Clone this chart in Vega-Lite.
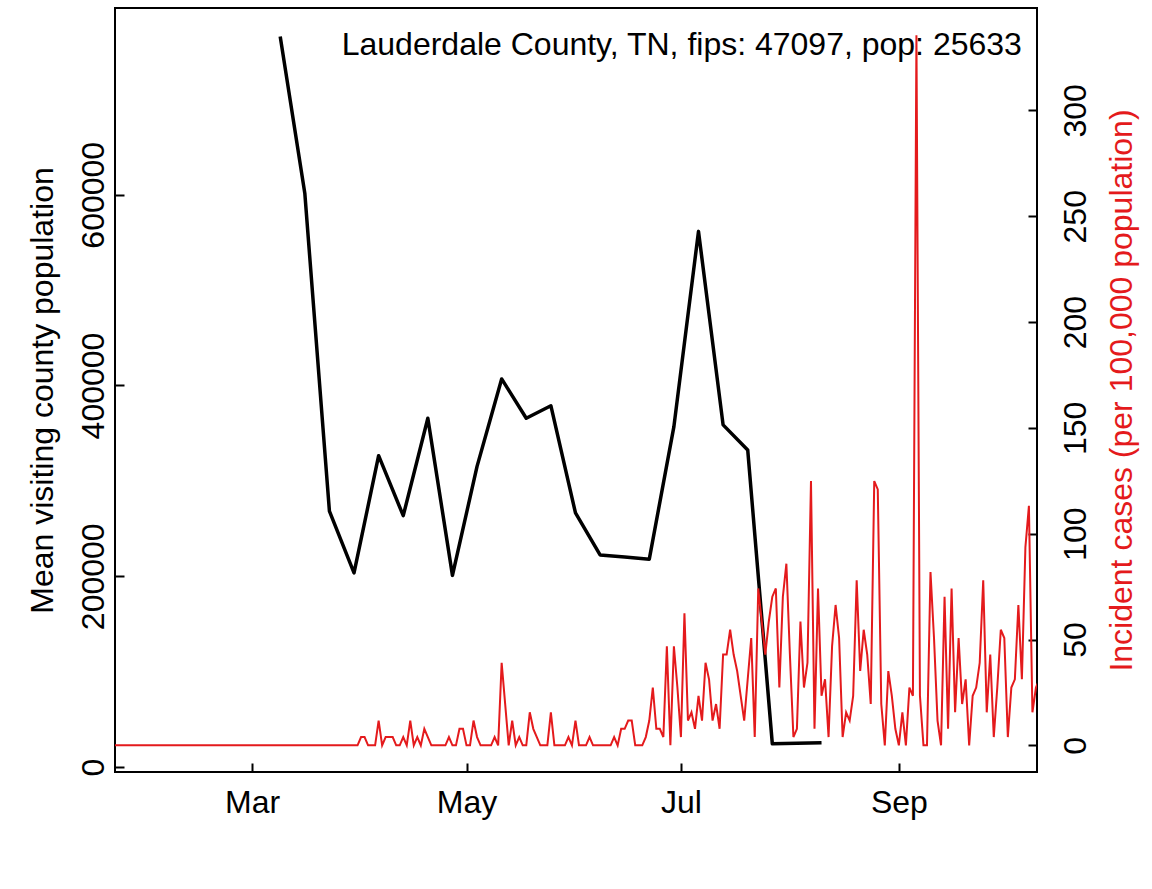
{
  "$schema": "https://vega.github.io/schema/vega-lite/v6.json",
  "width": 922,
  "height": 764,
  "autosize": {"type": "none"},
  "padding": {"left": 115, "top": 8, "right": 115, "bottom": 117},
  "background": "white",
  "config": {
    "font": "Liberation Sans",
    "view": {"stroke": "black", "strokeWidth": 2},
    "axis": {"grid": false, "domain": false, "tickColor": "black", "tickWidth": 2, "tickSize": -9, "labelFontSize": 32, "labelColor": "black", "labelFont": "Liberation Sans", "titleFontSize": 32, "titleFontWeight": "normal", "titleColor": "black", "titleFont": "Liberation Sans", "labelOverlap": false}
  },
  "datasets": {
    "visits": [
      {"date": "2020-03-09", "visitors": 766000},
      {"date": "2020-03-16", "visitors": 601600},
      {"date": "2020-03-23", "visitors": 268300},
      {"date": "2020-03-30", "visitors": 203500},
      {"date": "2020-04-06", "visitors": 326400},
      {"date": "2020-04-13", "visitors": 263500},
      {"date": "2020-04-20", "visitors": 365700},
      {"date": "2020-04-27", "visitors": 200900},
      {"date": "2020-05-04", "visitors": 315200},
      {"date": "2020-05-11", "visitors": 406900},
      {"date": "2020-05-18", "visitors": 365700},
      {"date": "2020-05-25", "visitors": 378800},
      {"date": "2020-06-01", "visitors": 266400},
      {"date": "2020-06-08", "visitors": 222300},
      {"date": "2020-06-15", "visitors": 220200},
      {"date": "2020-06-22", "visitors": 217900},
      {"date": "2020-06-29", "visitors": 356900},
      {"date": "2020-07-06", "visitors": 561600},
      {"date": "2020-07-13", "visitors": 358700},
      {"date": "2020-07-20", "visitors": 332400},
      {"date": "2020-07-27", "visitors": 24400},
      {"date": "2020-08-03", "visitors": 25000},
      {"date": "2020-08-10", "visitors": 25500}
    ],
    "cases": [
      {"date": "2020-01-22", "rate": 0}, {"date": "2020-01-23", "rate": 0}, {"date": "2020-01-24", "rate": 0}, {"date": "2020-01-25", "rate": 0}, {"date": "2020-01-26", "rate": 0},
      {"date": "2020-01-27", "rate": 0}, {"date": "2020-01-28", "rate": 0}, {"date": "2020-01-29", "rate": 0}, {"date": "2020-01-30", "rate": 0}, {"date": "2020-01-31", "rate": 0},
      {"date": "2020-02-01", "rate": 0}, {"date": "2020-02-02", "rate": 0}, {"date": "2020-02-03", "rate": 0}, {"date": "2020-02-04", "rate": 0}, {"date": "2020-02-05", "rate": 0},
      {"date": "2020-02-06", "rate": 0}, {"date": "2020-02-07", "rate": 0}, {"date": "2020-02-08", "rate": 0}, {"date": "2020-02-09", "rate": 0}, {"date": "2020-02-10", "rate": 0},
      {"date": "2020-02-11", "rate": 0}, {"date": "2020-02-12", "rate": 0}, {"date": "2020-02-13", "rate": 0}, {"date": "2020-02-14", "rate": 0}, {"date": "2020-02-15", "rate": 0},
      {"date": "2020-02-16", "rate": 0}, {"date": "2020-02-17", "rate": 0}, {"date": "2020-02-18", "rate": 0}, {"date": "2020-02-19", "rate": 0}, {"date": "2020-02-20", "rate": 0},
      {"date": "2020-02-21", "rate": 0}, {"date": "2020-02-22", "rate": 0}, {"date": "2020-02-23", "rate": 0}, {"date": "2020-02-24", "rate": 0}, {"date": "2020-02-25", "rate": 0},
      {"date": "2020-02-26", "rate": 0}, {"date": "2020-02-27", "rate": 0}, {"date": "2020-02-28", "rate": 0}, {"date": "2020-02-29", "rate": 0},
      {"date": "2020-03-01", "rate": 0}, {"date": "2020-03-02", "rate": 0}, {"date": "2020-03-03", "rate": 0}, {"date": "2020-03-04", "rate": 0}, {"date": "2020-03-05", "rate": 0},
      {"date": "2020-03-06", "rate": 0}, {"date": "2020-03-07", "rate": 0}, {"date": "2020-03-08", "rate": 0}, {"date": "2020-03-09", "rate": 0}, {"date": "2020-03-10", "rate": 0},
      {"date": "2020-03-11", "rate": 0}, {"date": "2020-03-12", "rate": 0}, {"date": "2020-03-13", "rate": 0}, {"date": "2020-03-14", "rate": 0}, {"date": "2020-03-15", "rate": 0},
      {"date": "2020-03-16", "rate": 0}, {"date": "2020-03-17", "rate": 0}, {"date": "2020-03-18", "rate": 0}, {"date": "2020-03-19", "rate": 0}, {"date": "2020-03-20", "rate": 0},
      {"date": "2020-03-21", "rate": 0}, {"date": "2020-03-22", "rate": 0}, {"date": "2020-03-23", "rate": 0}, {"date": "2020-03-24", "rate": 0}, {"date": "2020-03-25", "rate": 0},
      {"date": "2020-03-26", "rate": 0}, {"date": "2020-03-27", "rate": 0}, {"date": "2020-03-28", "rate": 0}, {"date": "2020-03-29", "rate": 0}, {"date": "2020-03-30", "rate": 0},
      {"date": "2020-03-31", "rate": 0},
      {"date": "2020-04-01", "rate": 3.9}, {"date": "2020-04-02", "rate": 3.9}, {"date": "2020-04-03", "rate": 0}, {"date": "2020-04-04", "rate": 0}, {"date": "2020-04-05", "rate": 0},
      {"date": "2020-04-06", "rate": 11.7}, {"date": "2020-04-07", "rate": 0}, {"date": "2020-04-08", "rate": 3.9}, {"date": "2020-04-09", "rate": 3.9}, {"date": "2020-04-10", "rate": 3.9},
      {"date": "2020-04-11", "rate": 0}, {"date": "2020-04-12", "rate": 0}, {"date": "2020-04-13", "rate": 3.9}, {"date": "2020-04-14", "rate": 0}, {"date": "2020-04-15", "rate": 11.7},
      {"date": "2020-04-16", "rate": 0}, {"date": "2020-04-17", "rate": 3.9}, {"date": "2020-04-18", "rate": 0}, {"date": "2020-04-19", "rate": 7.8}, {"date": "2020-04-20", "rate": 3.9},
      {"date": "2020-04-21", "rate": 0}, {"date": "2020-04-22", "rate": 0}, {"date": "2020-04-23", "rate": 0}, {"date": "2020-04-24", "rate": 0}, {"date": "2020-04-25", "rate": 0},
      {"date": "2020-04-26", "rate": 3.9}, {"date": "2020-04-27", "rate": 0}, {"date": "2020-04-28", "rate": 0}, {"date": "2020-04-29", "rate": 7.8}, {"date": "2020-04-30", "rate": 7.8},
      {"date": "2020-05-01", "rate": 0}, {"date": "2020-05-02", "rate": 0}, {"date": "2020-05-03", "rate": 11.7}, {"date": "2020-05-04", "rate": 3.9}, {"date": "2020-05-05", "rate": 0},
      {"date": "2020-05-06", "rate": 0}, {"date": "2020-05-07", "rate": 0}, {"date": "2020-05-08", "rate": 0}, {"date": "2020-05-09", "rate": 3.9}, {"date": "2020-05-10", "rate": 0},
      {"date": "2020-05-11", "rate": 39.01}, {"date": "2020-05-12", "rate": 19.51}, {"date": "2020-05-13", "rate": 0}, {"date": "2020-05-14", "rate": 11.7}, {"date": "2020-05-15", "rate": 0},
      {"date": "2020-05-16", "rate": 3.9}, {"date": "2020-05-17", "rate": 0}, {"date": "2020-05-18", "rate": 0}, {"date": "2020-05-19", "rate": 15.6}, {"date": "2020-05-20", "rate": 7.8},
      {"date": "2020-05-21", "rate": 3.9}, {"date": "2020-05-22", "rate": 0}, {"date": "2020-05-23", "rate": 0}, {"date": "2020-05-24", "rate": 0}, {"date": "2020-05-25", "rate": 15.6},
      {"date": "2020-05-26", "rate": 0}, {"date": "2020-05-27", "rate": 0}, {"date": "2020-05-28", "rate": 0}, {"date": "2020-05-29", "rate": 0}, {"date": "2020-05-30", "rate": 3.9},
      {"date": "2020-05-31", "rate": 0},
      {"date": "2020-06-01", "rate": 11.7}, {"date": "2020-06-02", "rate": 0}, {"date": "2020-06-03", "rate": 0}, {"date": "2020-06-04", "rate": 0}, {"date": "2020-06-05", "rate": 3.9},
      {"date": "2020-06-06", "rate": 0}, {"date": "2020-06-07", "rate": 0}, {"date": "2020-06-08", "rate": 0}, {"date": "2020-06-09", "rate": 0}, {"date": "2020-06-10", "rate": 0},
      {"date": "2020-06-11", "rate": 0}, {"date": "2020-06-12", "rate": 3.9}, {"date": "2020-06-13", "rate": 0}, {"date": "2020-06-14", "rate": 7.8}, {"date": "2020-06-15", "rate": 7.8},
      {"date": "2020-06-16", "rate": 11.7}, {"date": "2020-06-17", "rate": 11.7}, {"date": "2020-06-18", "rate": 0}, {"date": "2020-06-19", "rate": 0}, {"date": "2020-06-20", "rate": 0},
      {"date": "2020-06-21", "rate": 3.9}, {"date": "2020-06-22", "rate": 11.7}, {"date": "2020-06-23", "rate": 27.31}, {"date": "2020-06-24", "rate": 7.8}, {"date": "2020-06-25", "rate": 7.8},
      {"date": "2020-06-26", "rate": 3.9}, {"date": "2020-06-27", "rate": 46.81}, {"date": "2020-06-28", "rate": 0}, {"date": "2020-06-29", "rate": 46.81}, {"date": "2020-06-30", "rate": 27.31},
      {"date": "2020-07-01", "rate": 3.9}, {"date": "2020-07-02", "rate": 62.42}, {"date": "2020-07-03", "rate": 11.7}, {"date": "2020-07-04", "rate": 15.6}, {"date": "2020-07-05", "rate": 7.8},
      {"date": "2020-07-06", "rate": 23.41}, {"date": "2020-07-07", "rate": 11.7}, {"date": "2020-07-08", "rate": 39.01}, {"date": "2020-07-09", "rate": 31.21}, {"date": "2020-07-10", "rate": 11.7},
      {"date": "2020-07-11", "rate": 19.51}, {"date": "2020-07-12", "rate": 7.8}, {"date": "2020-07-13", "rate": 42.91}, {"date": "2020-07-14", "rate": 42.91}, {"date": "2020-07-15", "rate": 54.62},
      {"date": "2020-07-16", "rate": 42.91}, {"date": "2020-07-17", "rate": 35.11}, {"date": "2020-07-18", "rate": 23.41}, {"date": "2020-07-19", "rate": 11.7}, {"date": "2020-07-20", "rate": 31.21},
      {"date": "2020-07-21", "rate": 50.72}, {"date": "2020-07-22", "rate": 3.9}, {"date": "2020-07-23", "rate": 74.12}, {"date": "2020-07-24", "rate": 58.52}, {"date": "2020-07-25", "rate": 42.91},
      {"date": "2020-07-26", "rate": 58.52}, {"date": "2020-07-27", "rate": 70.22}, {"date": "2020-07-28", "rate": 74.12}, {"date": "2020-07-29", "rate": 27.31}, {"date": "2020-07-30", "rate": 70.22},
      {"date": "2020-07-31", "rate": 85.83},
      {"date": "2020-08-01", "rate": 42.91}, {"date": "2020-08-02", "rate": 3.9}, {"date": "2020-08-03", "rate": 7.8}, {"date": "2020-08-04", "rate": 58.52}, {"date": "2020-08-05", "rate": 27.31},
      {"date": "2020-08-06", "rate": 39.01}, {"date": "2020-08-07", "rate": 124.84}, {"date": "2020-08-08", "rate": 7.8}, {"date": "2020-08-09", "rate": 74.12}, {"date": "2020-08-10", "rate": 23.41},
      {"date": "2020-08-11", "rate": 31.21}, {"date": "2020-08-12", "rate": 3.9}, {"date": "2020-08-13", "rate": 46.81}, {"date": "2020-08-14", "rate": 66.32}, {"date": "2020-08-15", "rate": 50.72},
      {"date": "2020-08-16", "rate": 3.9}, {"date": "2020-08-17", "rate": 15.6}, {"date": "2020-08-18", "rate": 11.7}, {"date": "2020-08-19", "rate": 23.41}, {"date": "2020-08-20", "rate": 78.02},
      {"date": "2020-08-21", "rate": 35.11}, {"date": "2020-08-22", "rate": 54.62}, {"date": "2020-08-23", "rate": 42.91}, {"date": "2020-08-24", "rate": 19.51}, {"date": "2020-08-25", "rate": 124.84},
      {"date": "2020-08-26", "rate": 120.94}, {"date": "2020-08-27", "rate": 19.51}, {"date": "2020-08-28", "rate": 0}, {"date": "2020-08-29", "rate": 35.11}, {"date": "2020-08-30", "rate": 23.41},
      {"date": "2020-08-31", "rate": 7.8},
      {"date": "2020-09-01", "rate": 0}, {"date": "2020-09-02", "rate": 15.6}, {"date": "2020-09-03", "rate": 0}, {"date": "2020-09-04", "rate": 27.31}, {"date": "2020-09-05", "rate": 23.41},
      {"date": "2020-09-06", "rate": 335.51}, {"date": "2020-09-07", "rate": 23.41}, {"date": "2020-09-08", "rate": 0}, {"date": "2020-09-09", "rate": 0}, {"date": "2020-09-10", "rate": 81.93},
      {"date": "2020-09-11", "rate": 50.72}, {"date": "2020-09-12", "rate": 11.7}, {"date": "2020-09-13", "rate": 0}, {"date": "2020-09-14", "rate": 70.22}, {"date": "2020-09-15", "rate": 7.8},
      {"date": "2020-09-16", "rate": 74.12}, {"date": "2020-09-17", "rate": 15.6}, {"date": "2020-09-18", "rate": 50.72}, {"date": "2020-09-19", "rate": 19.51}, {"date": "2020-09-20", "rate": 31.21},
      {"date": "2020-09-21", "rate": 0}, {"date": "2020-09-22", "rate": 23.41}, {"date": "2020-09-23", "rate": 27.31}, {"date": "2020-09-24", "rate": 39.01}, {"date": "2020-09-25", "rate": 78.02},
      {"date": "2020-09-26", "rate": 15.6}, {"date": "2020-09-27", "rate": 42.91}, {"date": "2020-09-28", "rate": 3.9}, {"date": "2020-09-29", "rate": 27.31}, {"date": "2020-09-30", "rate": 54.62},
      {"date": "2020-10-01", "rate": 50.72}, {"date": "2020-10-02", "rate": 3.9}, {"date": "2020-10-03", "rate": 27.31}, {"date": "2020-10-04", "rate": 31.21}, {"date": "2020-10-05", "rate": 66.32},
      {"date": "2020-10-06", "rate": 31.21}, {"date": "2020-10-07", "rate": 93.63}, {"date": "2020-10-08", "rate": 113.14}, {"date": "2020-10-09", "rate": 15.6}, {"date": "2020-10-10", "rate": 27.31},
      {"date": "2020-10-11", "rate": 31.21}
    ]
  },
  "layer": [
    {
      "data": {"name": "visits"},
      "mark": {"type": "line", "color": "black", "strokeWidth": 3.5, "clip": true, "strokeJoin": "round", "strokeCap": "butt"},
      "encoding": {
        "x": {
          "field": "date", "type": "temporal",
          "scale": {"type": "utc", "domain": [1579651200000, 1602313920000]},
          "axis": {"values": [1583020800000, 1588291200000, 1593561600000, 1598918400000], "labelExpr": "utcFormat(datum.value, '%b')", "title": null, "labelPadding": 49, "labelBaseline": "alphabetic", "labelAlign": "center", "labelFlush": false}
        },
        "y": {
          "field": "visitors", "type": "quantitative",
          "scale": {"domain": [-5240, 795800], "nice": false, "zero": false},
          "axis": {"orient": "left", "values": [0, 200000, 400000, 600000], "format": "d", "labelAngle": 270, "labelAlign": "center", "labelBaseline": "alphabetic", "labelPadding": 21,
                   "title": "Mean visiting county population", "titleAngle": 270, "titleAlign": "center", "titleBaseline": "alphabetic", "titleX": -63, "titleY": 382}
        }
      }
    },
    {
      "data": {"name": "cases"},
      "mark": {"type": "line", "color": "#E41A1C", "strokeWidth": 2, "clip": true, "strokeJoin": "miter"},
      "encoding": {
        "x": {"field": "date", "type": "temporal"},
        "y": {
          "field": "rate", "type": "quantitative",
          "scale": {"domain": [-12.6, 348.4], "nice": false, "zero": false},
          "axis": {"orient": "right", "values": [0, 50, 100, 150, 200, 250, 300], "format": "d", "labelAngle": 270, "labelAlign": "center", "labelBaseline": "alphabetic", "labelPadding": 57,
                   "title": "Incident cases (per 100,000 population)", "titleColor": "#E41A1C", "titleAngle": 270, "titleAlign": "center", "titleBaseline": "alphabetic", "titleX": 94, "titleY": 382}
        }
      }
    },
    {
      "data": {"values": [{"label": "Lauderdale County, TN, fips: 47097, pop: 25633"}]},
      "mark": {"type": "text", "align": "right", "baseline": "alphabetic", "fontSize": 32, "font": "Liberation Sans", "color": "black"},
      "encoding": {
        "text": {"field": "label"},
        "x": {"datum": 1601942400000, "type": "temporal"},
        "y": {"datum": 746000, "type": "quantitative", "scale": {"domain": [-5240, 795800], "nice": false, "zero": false}, "axis": null}
      }
    }
  ],
  "resolve": {"scale": {"y": "independent"}}
}
